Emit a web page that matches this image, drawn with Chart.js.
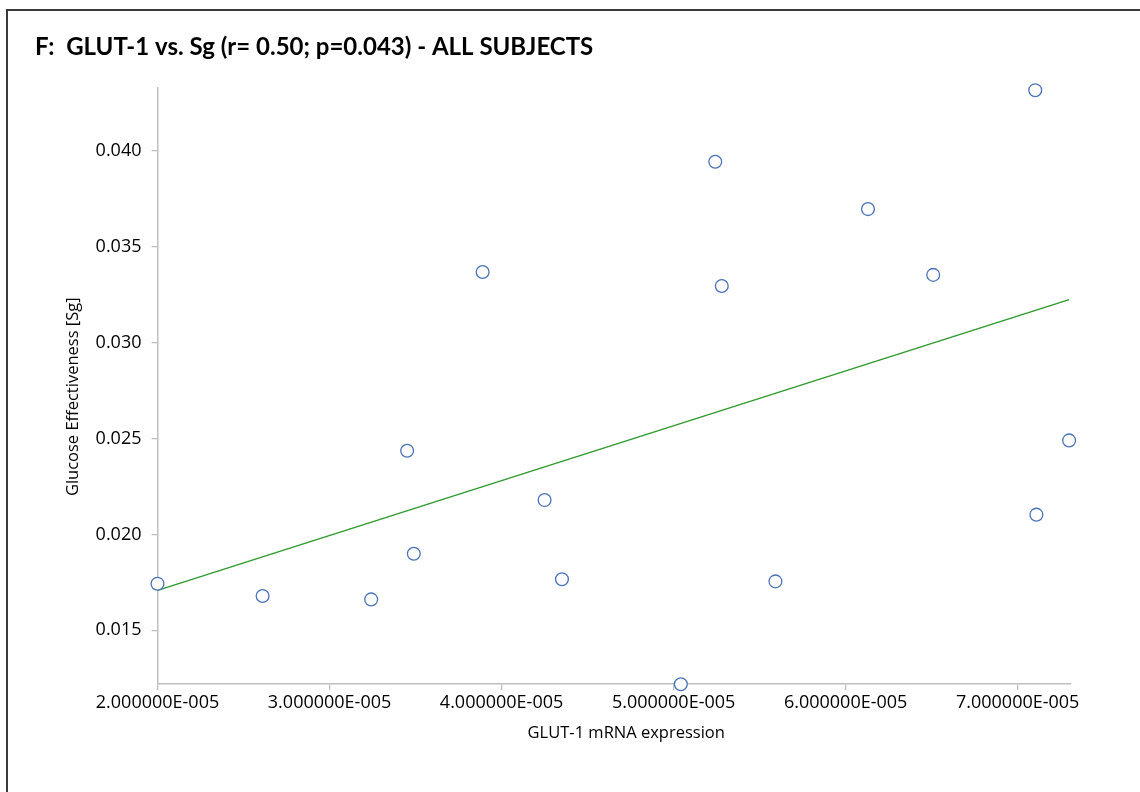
<!DOCTYPE html>
<html>
<head>
<meta charset="utf-8">
<script src="https://cdn.jsdelivr.net/npm/chart.js@4.4.1/dist/chart.umd.min.js"></script>
<style>
  html, body { margin: 0; padding: 0; background: #ffffff; }
  #wrap { width: 1140px; height: 792px; position: relative; }
</style>
</head>
<body>
<div id="wrap"><canvas id="c" width="1140" height="792"></canvas></div>
<script>
// GLUT-1 mRNA expression (x) vs glucose effectiveness Sg (y), one point per subject
const glutExpression = [
  2.000e-5, 2.611e-5, 3.242e-5, 3.451e-5, 3.490e-5, 3.890e-5, 4.250e-5, 4.351e-5, 5.042e-5,
  5.242e-5, 5.280e-5, 5.592e-5, 6.130e-5, 6.509e-5, 7.102e-5, 7.109e-5, 7.299e-5
];
const sgValues = [
  0.01743, 0.01679, 0.01661, 0.02436, 0.01899, 0.03368, 0.02179, 0.01766, 0.01219,
  0.03943, 0.03295, 0.01755, 0.03696, 0.03353, 0.04316, 0.02103, 0.02490
];

// Linear fit line end points
const trendX = [2.000e-5, 7.299e-5];
const trendY = [0.01708, 0.03224];

// Axis ticks
const xTickValues = [2e-5, 3e-5, 4e-5, 5e-5, 6e-5, 7e-5];
const xTickLabels = ['2.000000E-005', '3.000000E-005', '4.000000E-005', '5.000000E-005', '6.000000E-005', '7.000000E-005'];
const yTickValues = [0.015, 0.020, 0.025, 0.030, 0.035, 0.040];
const yTickLabels = ['0.015', '0.020', '0.025', '0.030', '0.035', '0.040'];

const titleText = 'F:  GLUT-1 vs. Sg (r= 0.50; p=0.043) - ALL SUBJECTS';
const xTitle = 'GLUT-1 mRNA expression';
const yTitle = 'Glucose Effectiveness [Sg]';

const points = glutExpression.map((x, i) => ({ x: x, y: sgValues[i] }));
const trend = trendX.map((x, i) => ({ x: x, y: trendY[i] }));

const AXIS_GREY = '#bfbfbf';
const TEXT = '#000000';

// Frame, heading and axis captions drawn on the canvas
const framePlugin = {
  id: 'frame',
  beforeDraw(chart) {
    const ctx = chart.ctx;
    ctx.save();
    ctx.fillStyle = '#ffffff';
    ctx.fillRect(0, 0, chart.width, chart.height);
    ctx.strokeStyle = '#3a3a3a';
    ctx.lineWidth = 2;
    ctx.strokeRect(7, 10, chart.width + 20, chart.height + 20);
    ctx.restore();
  },
  afterDraw(chart) {
    const ctx = chart.ctx;
    const area = chart.chartArea;
    ctx.save();
    ctx.fillStyle = TEXT;
    ctx.textBaseline = 'middle';

    ctx.font = 'bold 24px Lato';
    ctx.textAlign = 'left';
    ctx.fillText(titleText, 35, 47);

    ctx.font = '16.5px "Open Sans"';
    ctx.textAlign = 'center';
    ctx.fillText(xTitle, (area.left + area.right) / 2 + 12, 733);

    ctx.translate(73, (area.top + area.bottom) / 2 + 11);
    ctx.rotate(-Math.PI / 2);
    ctx.fillText(yTitle, 0, 0);
    ctx.restore();
  }
};

new Chart(document.getElementById('c'), {
  type: 'scatter',
  data: {
    datasets: [
      {
        label: 'Sg',
        data: points,
        showLine: false,
        pointStyle: 'circle',
        pointRadius: 6.4,
        pointHoverRadius: 6.4,
        pointBorderWidth: 1.3,
        pointBorderColor: '#4a72b8',
        pointBackgroundColor: '#ffffff',
        clip: false,
        order: 1
      },
      {
        label: 'Linear fit',
        type: 'line',
        data: trend,
        borderColor: '#2e9a2e',
        borderWidth: 1.4,
        pointRadius: 0,
        fill: false,
        tension: 0,
        clip: false,
        order: 2
      }
    ]
  },
  options: {
    responsive: false,
    animation: false,
    devicePixelRatio: 1,
    layout: { padding: { left: 0, top: 87.5, right: 69, bottom: 0 } },
    plugins: {
      legend: { display: false },
      tooltip: { enabled: false },
      title: { display: false }
    },
    scales: {
      x: {
        type: 'linear',
        min: 2e-5,
        max: 7.31e-5,
        afterFit(scale) { scale.height = 108; },
        afterBuildTicks(scale) { scale.ticks = xTickValues.map(v => ({ value: v })); },
        grid: {
          display: true,
          drawOnChartArea: false,
          drawTicks: true,
          tickLength: 6,
          color: AXIS_GREY,
          lineWidth: 1.3
        },
        border: { display: true, color: AXIS_GREY, width: 1.5 },
        ticks: {
          autoSkip: false,
          maxRotation: 0,
          padding: 2,
          color: TEXT,
          font: { family: 'Open Sans', size: 18 },
          callback(value) {
            const i = xTickValues.findIndex(v => Math.abs(v - value) < 1e-9);
            return i >= 0 ? xTickLabels[i] : '';
          }
        },
        title: { display: false }
      },
      y: {
        type: 'linear',
        min: 0.0122,
        max: 0.0433,
        afterFit(scale) { scale.width = 157.5; },
        afterBuildTicks(scale) { scale.ticks = yTickValues.map(v => ({ value: v })); },
        grid: {
          display: true,
          drawOnChartArea: false,
          drawTicks: true,
          tickLength: 6,
          color: AXIS_GREY,
          lineWidth: 1.3
        },
        border: { display: true, color: AXIS_GREY, width: 1.5 },
        ticks: {
          autoSkip: false,
          padding: 10,
          color: TEXT,
          font: { family: 'Open Sans', size: 18 },
          callback(value) {
            const i = yTickValues.findIndex(v => Math.abs(v - value) < 1e-9);
            return i >= 0 ? yTickLabels[i] : '';
          }
        },
        title: { display: false }
      }
    }
  },
  plugins: [framePlugin]
});
</script>
</body>
</html>
